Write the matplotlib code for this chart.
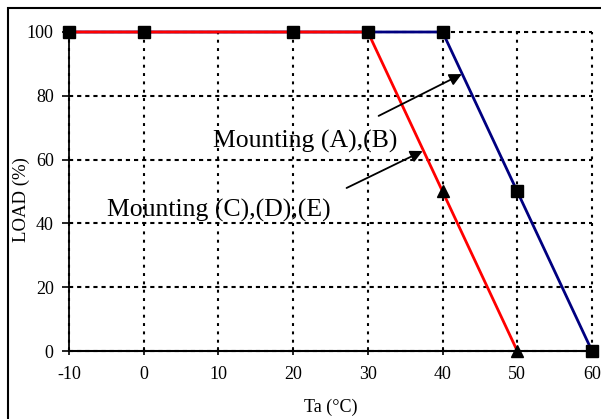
import matplotlib
matplotlib.use("Agg")
import matplotlib.pyplot as plt
from matplotlib.patches import Rectangle

# ---- data ----
ta_ab = [-10, 0, 20, 30, 40, 50, 60]
load_ab = [100, 100, 100, 100, 100, 50, 0]
ta_cde = [-10, 0, 20, 30, 40, 50]
load_cde = [100, 100, 100, 100, 50, 0]
tri_x = [40, 50]
tri_y = [50, 0]
xticks = [-10, 0, 10, 20, 30, 40, 50, 60]
xtick_labels = ["-10", "0", "10", "20", "30", "40", "50", "60"]
yticks = [0, 20, 40, 60, 80, 100]
ytick_labels = ["0", "20", "40", "60", "80", "100"]
label_ab = "Mounting (A),(B)"
label_cde = "Mounting (C),(D),(E)"

plt.rcParams['font.family'] = ['Liberation Serif', 'DejaVu Serif']

W, H = 601, 419
fig = plt.figure(figsize=(W / 100, H / 100), dpi=100)
ax = fig.add_axes([69 / W, 1 - 351 / H, (592 - 69) / W, (351 - 32) / H])

# lines
ax.plot(ta_ab, load_ab, color='#000080', lw=2.0, zorder=3, clip_on=False)
ax.plot(ta_cde, load_cde, color='#FF0000', lw=2.0, zorder=4, clip_on=False)
ax.plot(tri_x, tri_y, linestyle='none', marker='^', ms=8.5, color='black',
        zorder=5, clip_on=False)
ax.plot(ta_ab, load_ab, linestyle='none', marker='s', ms=8, color='black',
        zorder=6, clip_on=False)

ax.set_xlim(-10, 60)
ax.set_ylim(0, 100)
ax.set_xticks(xticks)
ax.set_xticklabels(xtick_labels)
ax.set_yticks(yticks)
ax.set_yticklabels(ytick_labels)

ax.xaxis.grid(True, color='black', lw=1.5, linestyle=(0, (1.4, 2.6)))
ax.yaxis.grid(True, color='black', lw=1.5, linestyle=(0, (2.0, 1.9)))
ax.set_axisbelow(True)
for gl in ax.get_xgridlines() + ax.get_ygridlines():
    gl.set_clip_on(False)

for s in ['top', 'right']:
    ax.spines[s].set_visible(False)
ax.spines['left'].set_linewidth(1.3)
ax.spines['bottom'].set_linewidth(1.5)

ax.tick_params(axis='y', direction='out', length=5, width=1.2, pad=6,
               labelsize=13)
ax.tick_params(axis='x', direction='inout', length=6, width=1.2, pad=7.5,
               labelsize=13)

ax.set_xlabel("Ta (°C)", fontsize=13)
ax.set_ylabel("LOAD (%)", fontsize=13.5)
ax.xaxis.set_label_coords(0.5, -0.150)
ax.yaxis.set_label_coords(-0.0746, 0.476)

# annotations
ax.text(21.6, 63.9, label_ab, fontsize=18.5, ha='center', va='baseline',
        zorder=7)
ax.text(10.1, 42.0, label_cde, fontsize=18.5, ha='center', va='baseline',
        zorder=7)
ax.annotate("", xy=(42.57, 86.8), xytext=(31.44, 73.7),
            arrowprops=dict(arrowstyle='-|>', color='black', lw=1.3,
                            mutation_scale=18, shrinkA=0, shrinkB=0),
            zorder=8)
ax.annotate("", xy=(37.34, 62.7), xytext=(27.15, 51.1),
            arrowprops=dict(arrowstyle='-|>', color='black', lw=1.3,
                            mutation_scale=18, shrinkA=0, shrinkB=0),
            zorder=8)

# outer frame (cropped at right and bottom)
top = 1 - 8.5 / H
fig.patches.append(Rectangle((7.5 / W, -0.2), 1.2, top + 0.2,
                             transform=fig.transFigure, fill=False,
                             edgecolor='black', lw=1.5))

fig.savefig("out.png", dpi=100)
